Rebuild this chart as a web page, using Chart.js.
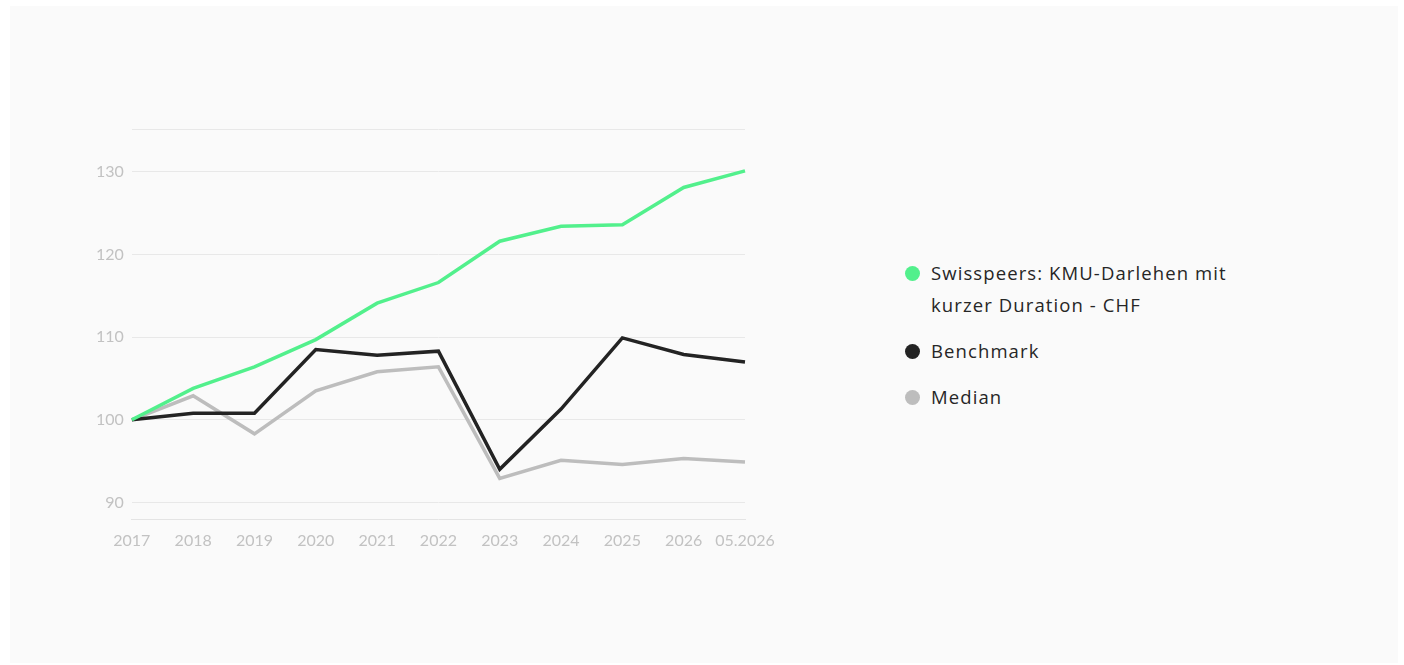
<!DOCTYPE html>
<html>
<head>
<meta charset="utf-8">
<script src="https://cdn.jsdelivr.net/npm/chart.js@4/dist/chart.umd.min.js"></script>
<style>
    body { margin: 0; background: #ffffff; font-family: Lato, sans-serif; }
    .card { position: absolute; left: 10px; top: 6px; width: 1388px; height: 657px; background: #fafafa; }
    .chart-box { position: absolute; left: 78px; top: 106px; width: 707px; height: 449px; }
    .legend { position: absolute; left: 895px; top: 251px; width: 360px; list-style: none; margin: 0; padding: 0; font-family: 'Open Sans', sans-serif; }
    .legend li { display: flex; align-items: flex-start; font-size: 18.5px; letter-spacing: 1.1px; line-height: 32px; color: #262626; margin-bottom: 14px; }
    .legend .dot { flex: 0 0 auto; width: 15px; height: 15px; border-radius: 50%; margin: 9px 11px 0 0; }
</style>
</head>
<body>
<div class="card">
    <div class="chart-box"><canvas id="perfChart"></canvas></div>
    <ul class="legend" id="legend"></ul>
</div>
<script>
// Data
const labels = ['2017', '2018', '2019', '2020', '2021', '2022', '2023', '2024', '2025', '2026', '05.2026'];
const swisspeers = [100, 103.8, 106.4, 109.7, 114.1, 116.6, 121.6, 123.4, 123.6, 128.1, 130.1];
const benchmark = [100, 100.8, 100.8, 108.5, 107.8, 108.3, 94.0, 101.3, 109.9, 107.9, 107.0];
const median = [100, 102.9, 98.3, 103.5, 105.8, 106.4, 92.9, 95.1, 94.6, 95.3, 94.9];
const yTicks = [90, 100, 110, 120, 130];
const seriesNames = ['Swisspeers: KMU-Darlehen mit kurzer Duration - CHF', 'Benchmark', 'Median'];

// Colors
const lineColors = {
    green: '#52f08c',
    black: '#232323',
    gray: '#bdbdbd'
};

const allValues = swisspeers.concat(benchmark, median);
const yMin = Math.min(...allValues) - 5;
const yMax = Math.max(...allValues) + 5;

function makeDataset(label, data, color) {
    return {
        label: label,
        data: data,
        borderColor: color,
        backgroundColor: color,
        borderWidth: 3.5,
        pointRadius: 0,
        pointHoverRadius: 0,
        tension: 0,
        borderJoinStyle: 'miter'
    };
}

const ctx = document.getElementById('perfChart').getContext('2d');
const perfChart = new Chart(ctx, {
    type: 'line',
    data: {
        labels: labels,
        datasets: [
            makeDataset(seriesNames[0], swisspeers, lineColors.green),
            makeDataset(seriesNames[1], benchmark, lineColors.black),
            makeDataset(seriesNames[2], median, lineColors.gray)
        ]
    },
    options: {
        responsive: true,
        maintainAspectRatio: false,
        animation: false,
        layout: { padding: { left: 0, right: 50, top: 0, bottom: 0 } },
        plugins: {
            legend: { display: false },
            tooltip: { enabled: false }
        },
        scales: {
            x: {
                offset: false,
                grid: { display: false, drawTicks: false },
                border: { display: true, color: '#e4e4e4', width: 1 },
                ticks: {
                    color: '#c2c2c2',
                    font: { family: 'Lato', size: 16 },
                    padding: 11,
                    maxRotation: 0,
                    autoSkip: false
                }
            },
            y: {
                min: yMin,
                max: yMax,
                grid: { color: '#e8e8e8', lineWidth: 1, drawTicks: false },
                border: { display: false },
                ticks: {
                    color: '#c2c2c2',
                    font: { family: 'Lato', size: 16 },
                    padding: 8,
                    callback: value => (yTicks.includes(value) ? value : '')
                },
                afterBuildTicks: axis => {
                    // round ticks plus the top bound line
                    axis.ticks = yTicks.concat([yMax]).map(v => ({ value: v }));
                }
            }
        }
    }
});

// HTML legend (wraps long labels)
const legendEl = document.getElementById('legend');
legendEl.innerHTML = perfChart.data.datasets.map(ds => `
    <li><span class="dot" style="background:${ds.borderColor}"></span><span>${ds.label}</span></li>
`).join('');
</script>
</body>
</html>
